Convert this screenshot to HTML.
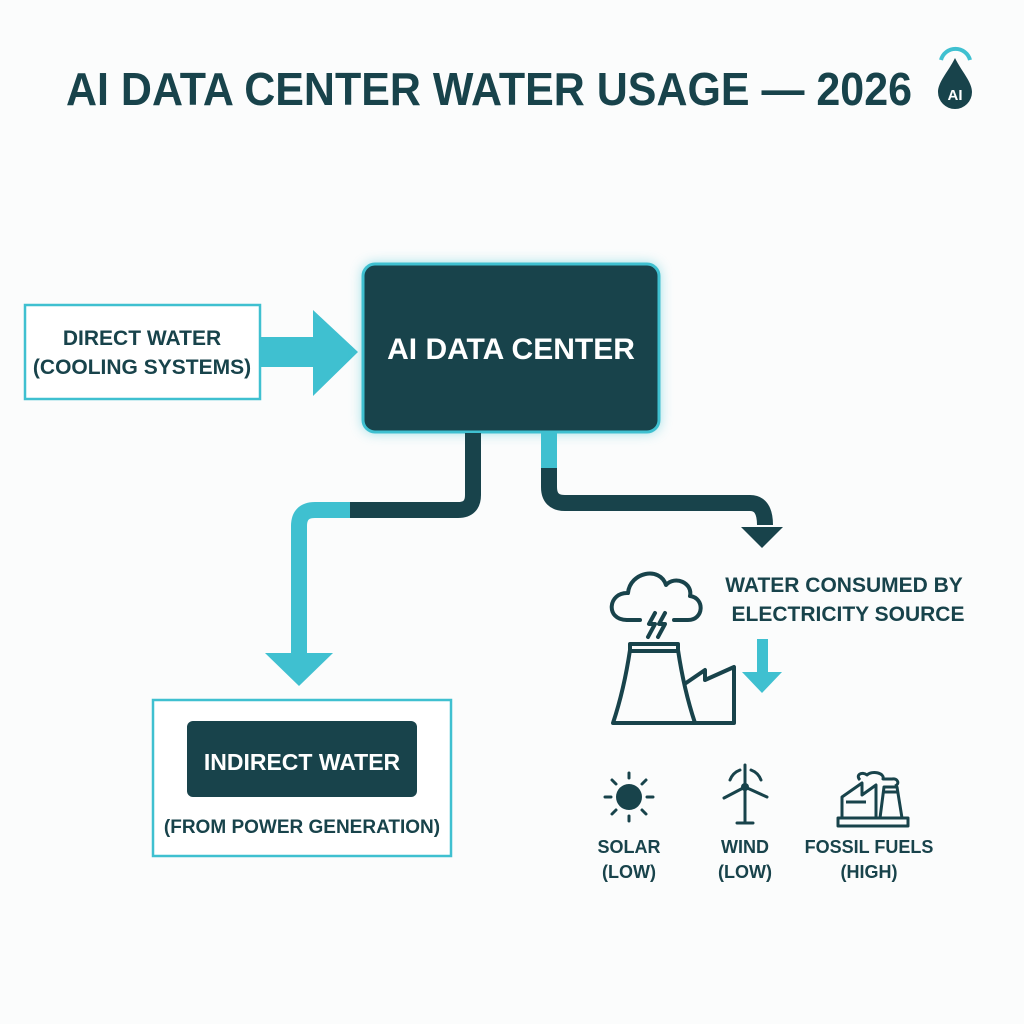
<!DOCTYPE html>
<html><head><meta charset="utf-8"><style>
html,body{margin:0;padding:0;background:#fbfcfc}
svg{display:block}
text{font-family:"Liberation Sans",sans-serif;font-weight:bold}
</style></head><body>
<svg width="1024" height="1024" viewBox="0 0 1024 1024" xmlns="http://www.w3.org/2000/svg">
<defs>
<filter id="glow" x="-20%" y="-20%" width="140%" height="140%"><feGaussianBlur stdDeviation="6"/></filter>
</defs>
<rect width="1024" height="1024" fill="#fbfcfc"/>
<!-- title -->
<text x="489" y="105" font-size="46" fill="#18434b" text-anchor="middle" textLength="846" lengthAdjust="spacingAndGlyphs">AI DATA CENTER WATER USAGE — 2026</text>
<!-- drop icon -->
<path d="M941 60 A15 15 0 0 1 970 60" fill="none" stroke="#3fc0d0" stroke-width="4"/>
<path d="M955 58 C962 72 972 82 972 92 A17 17 0 0 1 938 92 C938 82 948 72 955 58Z" fill="#18434b"/>
<text x="955" y="100" font-size="15" fill="#fff" text-anchor="middle">AI</text>

<!-- direct water box -->
<rect x="25" y="305" width="235" height="94" fill="#fff" stroke="#3fc0d0" stroke-width="2.5"/>
<text x="142" y="345" font-size="21" fill="#18434b" text-anchor="middle" font-weight="normal" style="font-weight:600">DIRECT WATER</text>
<text x="142" y="374" font-size="21" fill="#18434b" text-anchor="middle">(COOLING SYSTEMS)</text>
<path d="M261 337 H313 V310 L358 352 L313 396 V367 H261Z" fill="#3fc0d0"/>

<!-- AI data center -->
<rect x="362" y="263" width="298" height="170" rx="12" fill="#3fc0d0" opacity="0.5" filter="url(#glow)"/>
<rect x="363" y="264" width="296" height="168" rx="12" fill="#18434b" stroke="#3fc0d0" stroke-width="3"/>
<text x="511" y="359" font-size="30" fill="#fff" text-anchor="middle">AI DATA CENTER</text>

<!-- left connector -->
<path d="M473 433 V495 Q473 510 458 510 H350" fill="none" stroke="#18434b" stroke-width="16"/>
<path d="M350 510 H315 Q299 510 299 526 V655" fill="none" stroke="#3fc0d0" stroke-width="16"/>
<path d="M265 653 H333 L299 686Z" fill="#3fc0d0"/>

<!-- right connector -->
<path d="M549 433 V470" fill="none" stroke="#3fc0d0" stroke-width="16"/>
<path d="M549 468 V487 Q549 503 565 503 H750 Q765 503 765 525" fill="none" stroke="#18434b" stroke-width="16"/>
<path d="M741 527 H783 L762 548Z" fill="#18434b"/>

<!-- power plant icon -->
<g fill="none" stroke="#18434b" stroke-width="4" stroke-linejoin="round" stroke-linecap="round">
<path d="M627 620 C605 620 608 592 628 593 C630 572 660 566 666 585 C675 575 693 583 690 596 C705 598 704 620 688 620 H674"/>
<path d="M627 620 H640"/>
<path d="M655 613 L649 624 H655 L648 637 M665 613 L659 624 H665 L658 637"/>
<path d="M630 644 H678 V650 Q684 690 695 723 H613 Q624 690 630 650Z"/>
<path d="M630 651 H678"/>
<path d="M686 683 L705 670 V680 L734 667 V723 H695"/>
</g>
<text x="844" y="592" font-size="21" fill="#18434b" text-anchor="middle">WATER CONSUMED BY</text>
<text x="848" y="621" font-size="21" fill="#18434b" text-anchor="middle">ELECTRICITY SOURCE</text>
<path d="M757 639 H768 V672 H782 L762 693 L742 672 H757Z" fill="#3fc0d0"/>

<!-- sun -->
<g fill="#18434b" stroke="#18434b" stroke-width="3" stroke-linecap="round">
<circle cx="629" cy="797" r="13" stroke="none"/>
<line x1="629" y1="773" x2="629" y2="778"/><line x1="629" y1="816" x2="629" y2="821"/>
<line x1="605" y1="797" x2="611" y2="797"/><line x1="647" y1="797" x2="653" y2="797"/>
<line x1="612" y1="780" x2="616" y2="784"/><line x1="642" y1="810" x2="646" y2="814"/>
<line x1="646" y1="780" x2="642" y2="784"/><line x1="616" y1="810" x2="612" y2="814"/>
</g>
<!-- wind -->
<g fill="none" stroke="#18434b" stroke-width="3" stroke-linecap="round">
<line x1="745" y1="787" x2="745" y2="822"/><line x1="737" y1="823" x2="753" y2="823"/>
<line x1="745" y1="787" x2="745" y2="765"/><line x1="745" y1="787" x2="724" y2="798"/><line x1="745" y1="787" x2="767" y2="797"/>
<path d="M730 780 A17 17 0 0 1 740 770 M751 770 A17 17 0 0 1 761 780"/>
</g>
<circle cx="745" cy="787" r="4" fill="#18434b"/>
<!-- fossil -->
<g fill="none" stroke="#18434b" stroke-width="3" stroke-linejoin="round">
<path d="M838 818 H908 V826 H838Z"/>
<path d="M842 818 V797 L862 783 V795 L876 785 V818"/>
<path d="M846 802 H866"/>
<path d="M880 818 L884 787 H897 L902 818"/>
<path d="M884 792 H897"/>
<path d="M860 780 C855 775 862 771 867 775 C872 770 885 773 883 779 H892 C898 778 900 784 895 786"/>
</g>
<g font-size="18" fill="#18434b" text-anchor="middle">
<text x="629" y="853">SOLAR</text><text x="629" y="878">(LOW)</text>
<text x="745" y="853">WIND</text><text x="745" y="878">(LOW)</text>
<text x="869" y="853">FOSSIL FUELS</text><text x="869" y="878">(HIGH)</text>
</g>

<!-- indirect box -->
<rect x="153" y="700" width="298" height="156" fill="#fff" stroke="#3fc0d0" stroke-width="2.5"/>
<rect x="187" y="721" width="230" height="76" rx="6" fill="#18434b"/>
<text x="302" y="770" font-size="23" fill="#fff" text-anchor="middle">INDIRECT WATER</text>
<text x="302" y="833" font-size="19" fill="#18434b" text-anchor="middle">(FROM POWER GENERATION)</text>
</svg>
</body></html>
